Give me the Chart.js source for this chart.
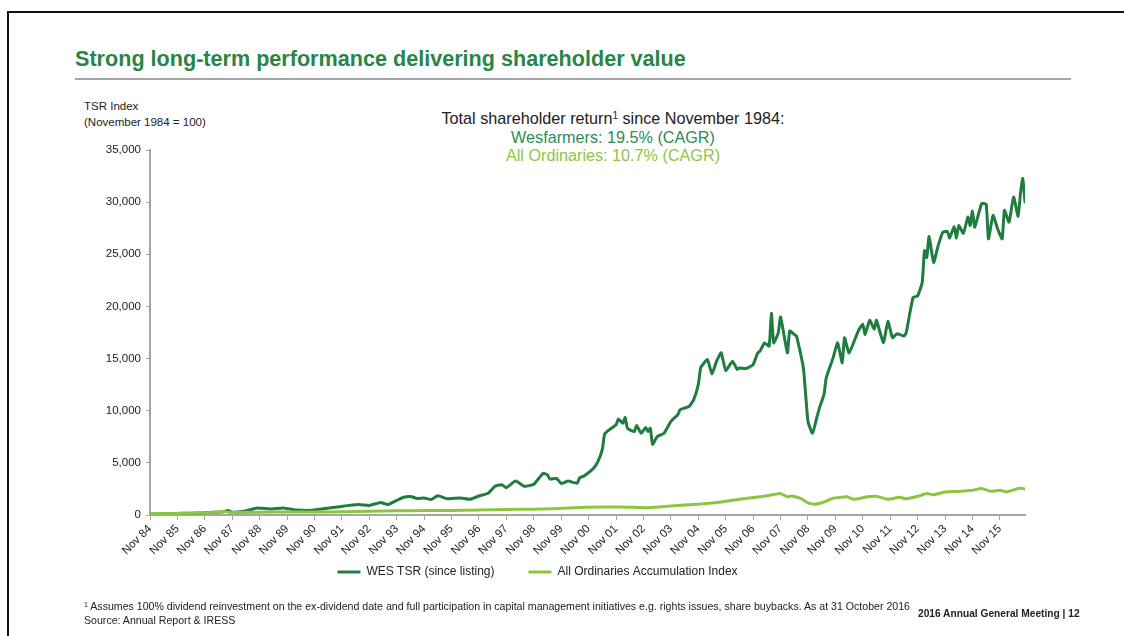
<!DOCTYPE html>
<html>
<head>
<meta charset="utf-8">
<script src="https://cdn.jsdelivr.net/npm/chart.js@4.4.0/dist/chart.umd.min.js"></script>
<style>
  html, body { margin:0; padding:0; background:#fff; }
  body { width:1124px; height:636px; position:relative; overflow:hidden; font-family:"Liberation Sans", Arial, sans-serif; color:#222; }
  #frame { position:absolute; left:7px; top:11px; right:-10px; bottom:-10px; border-top:2px solid #111; border-left:2px solid #111; }
  #title { position:absolute; left:75px; top:47px; font-size:21.6px; font-weight:bold; color:#2A8545; white-space:nowrap; line-height:24px; }
  #rule { position:absolute; left:75px; top:78px; width:996px; height:2px; background:#A6A6A6; }
  #ylab { position:absolute; left:84px; top:98px; font-size:11.5px; line-height:16px; white-space:nowrap; }
  #note { position:absolute; left:413px; width:400px; top:109px; text-align:center; font-size:16.2px; line-height:18.5px; white-space:nowrap; }
  #note sup { font-size:10px; vertical-align:5px; line-height:0; }
  #foot { position:absolute; left:84px; top:600px; font-size:10.6px; line-height:13.5px; white-space:nowrap; }
  #foot sup { font-size:7px; vertical-align:3px; line-height:0; }
  #agm { position:absolute; left:918px; top:608px; font-size:10.2px; font-weight:bold; white-space:nowrap; }
  #wrap { position:absolute; left:0; top:0; width:1124px; height:636px; }
</style>
</head>
<body>
<div id="frame"></div>
<div id="title">Strong long-term performance delivering shareholder value</div>
<div id="rule"></div>
<div id="ylab">TSR Index<br>(November 1984 = 100)</div>
<div id="note">Total shareholder return<sup>1</sup> since November 1984:<br><span style="color:#2E8B57">Wesfarmers: 19.5% (CAGR)</span><br><span style="color:#8CC63F">All Ordinaries: 10.7% (CAGR)</span></div>
<div id="wrap"><canvas id="c" width="1124" height="636"></canvas></div>
<div id="foot"><sup>1</sup> Assumes 100% dividend reinvestment on the ex-dividend date and full participation in capital management initiatives e.g. rights issues, share buybacks. As at 31 October 2016<br>Source: Annual Report &amp; IRESS</div>
<div id="agm">2016 Annual General Meeting | 12</div>
<script>
// x = months since November 1984
const tickLabels = ["Nov 84","Nov 85","Nov 86","Nov 87","Nov 88","Nov 89","Nov 90","Nov 91","Nov 92","Nov 93","Nov 94","Nov 95","Nov 96","Nov 97","Nov 98","Nov 99","Nov 00","Nov 01","Nov 02","Nov 03","Nov 04","Nov 05","Nov 06","Nov 07","Nov 08","Nov 09","Nov 10","Nov 11","Nov 12","Nov 13","Nov 14","Nov 15"];
const yTicks = [0,5000,10000,15000,20000,25000,30000,35000];

const wesMonth = [0,6,11,18,23,28,32,34,36,41,47,53,58,64,71,77,83,91,96,101,104,108,111,114,117,120,123,126,130,136,140,144,148,151,154,156,160,164,168,172,174,175,178,180,183,187,188,190,194,196,198,199,201,204,205,207,208,209,212,213,215,217,218,219,220,222,225,228,231,232,234,236,238,240,241,242,244,246,248,250,252,255,257,258,261,264,266,267,269,271,272,273,275,276,279,280,282,283,286,288,290,292,293,295,296,299,301,303,304,306,310,312,313,315,317,318,321,323,325,327,330,331,334,336,338,339,340,341,343,345,347,349,350,352,353,354,356,358,359,360,361,364,366,367,369,371,373,374,376,378,380,381,382,383];
const wesTSR = [100,110,150,170,200,260,300,420,260,350,680,580,680,480,450,620,800,1000,920,1200,1000,1400,1700,1780,1580,1640,1480,1850,1570,1640,1500,1820,2080,2760,2900,2620,3250,2750,2950,3990,3850,3450,3500,3020,3250,3050,3550,3750,4450,5100,6300,7760,8160,8650,9200,8800,9350,8320,8000,8580,7840,8390,8000,8320,6780,7520,7840,8970,9610,10090,10250,10410,11060,12500,14100,14430,14910,13520,14750,15550,13850,14750,13950,14100,14050,14430,15550,15710,16510,16190,19340,16510,17470,18990,15550,17640,17320,17160,14100,8970,7840,9450,10250,11540,13140,15070,16510,14590,17000,15550,17640,18290,17320,18670,17800,18670,16510,18570,17000,17380,17160,17480,20850,21010,22300,25350,24700,26700,24220,25830,27110,27200,26570,27660,26570,27760,27010,28560,27760,29140,27600,29850,29790,26480,28730,27450,26480,29210,28080,30490,28630,30820,32270,30010];

const aordMonth = [0,12,24,33,35,48,60,72,84,96,108,120,132,144,156,168,176,191,206,219,228,240,250,258,267,273,276,279,281,285,288,291,295,299,305,308,314,318,323,328,331,337,340,343,347,349,355,360,364,368,372,375,380,382,383];
const aordIndex = [100,140,200,330,230,260,290,280,310,360,400,420,440,470,520,560,610,740,770,700,870,1030,1250,1510,1740,1960,2050,1740,1830,1570,1160,1030,1250,1600,1740,1500,1740,1800,1500,1700,1550,1860,2050,1950,2150,2220,2280,2380,2540,2280,2380,2220,2540,2540,2480];

const seriesNames = ["WES TSR (since listing)", "All Ordinaries Accumulation Index"];

function pairs(xs, ys) {
  const n = Math.min(xs.length, ys.length);
  const out = [];
  for (let i = 0; i < n; i++) out.push({x: xs[i], y: ys[i]});
  return out;
}

const FONT = "'Liberation Sans', Arial, sans-serif";
const AXIS = '#A6A6A6';

// move the legend block to where the reference shows it
const legendPlace = {
  id: 'legendPlace',
  afterLayout(chart) {
    const L = chart.legend;
    if (!L) return;
    const h = L.bottom - L.top;
    L.top = 532; L.bottom = 532 + h;
    L.left += 25; L.right += 25;
  }
};

new Chart(document.getElementById('c'), {
  type: 'line',
  data: {
    datasets: [
      { label: seriesNames[0], data: pairs(wesMonth, wesTSR), borderColor: '#1F7D3F', backgroundColor: '#1F7D3F', borderWidth: 3, borderJoinStyle: 'round', borderCapStyle: 'round', pointRadius: 0, tension: 0.15, order: 2 },
      { label: seriesNames[1], data: pairs(aordMonth, aordIndex), borderColor: '#8CC63F', backgroundColor: '#8CC63F', borderWidth: 3, borderJoinStyle: 'round', borderCapStyle: 'round', pointRadius: 0, tension: 0.15, order: 1 }
    ]
  },
  plugins: [legendPlace],
  options: {
    responsive: false,
    animation: false,
    layout: { padding: { left: 0, right: 99, top: 150, bottom: 19 } },
    plugins: {
      tooltip: { enabled: false },
      legend: {
        position: 'bottom',
        labels: {
          font: { family: FONT, size: 12 },
          color: '#222',
          boxWidth: 23,
          boxHeight: 3,
          padding: 34,
          sort: (a, b) => a.datasetIndex - b.datasetIndex,
          generateLabels: (chart) => Chart.defaults.plugins.legend.labels.generateLabels(chart).map(l => Object.assign(l, { lineWidth: 0 }))
        }
      }
    },
    scales: {
      x: {
        type: 'linear',
        min: 0,
        max: 383,
        afterBuildTicks: (s) => { s.ticks = tickLabels.map((_, i) => ({ value: i * 12 })); },
        afterFit: (s) => { s.height = 46; },
        ticks: {
          autoSkip: false,
          maxRotation: 45,
          minRotation: 45,
          padding: 2,
          color: '#222',
          font: { family: FONT, size: 11.5 },
          callback: (v) => tickLabels[Math.round(v / 12)]
        },
        grid: { display: true, drawOnChartArea: false, drawTicks: true, tickLength: 5, color: AXIS, lineWidth: 1 },
        border: { display: true, color: AXIS, width: 2 }
      },
      y: {
        min: 0,
        max: 35000,
        afterBuildTicks: (s) => { s.ticks = yTicks.map(v => ({ value: v })); },
        afterFit: (s) => { s.width = 150; },
        ticks: {
          padding: 5,
          color: '#222',
          font: { family: FONT, size: 11.5 },
          callback: (v) => v.toLocaleString('en-US')
        },
        grid: { display: true, drawOnChartArea: false, drawTicks: true, tickLength: 4, color: AXIS, lineWidth: 1 },
        border: { display: true, color: AXIS, width: 2 }
      }
    }
  }
});
</script>
</body>
</html>
